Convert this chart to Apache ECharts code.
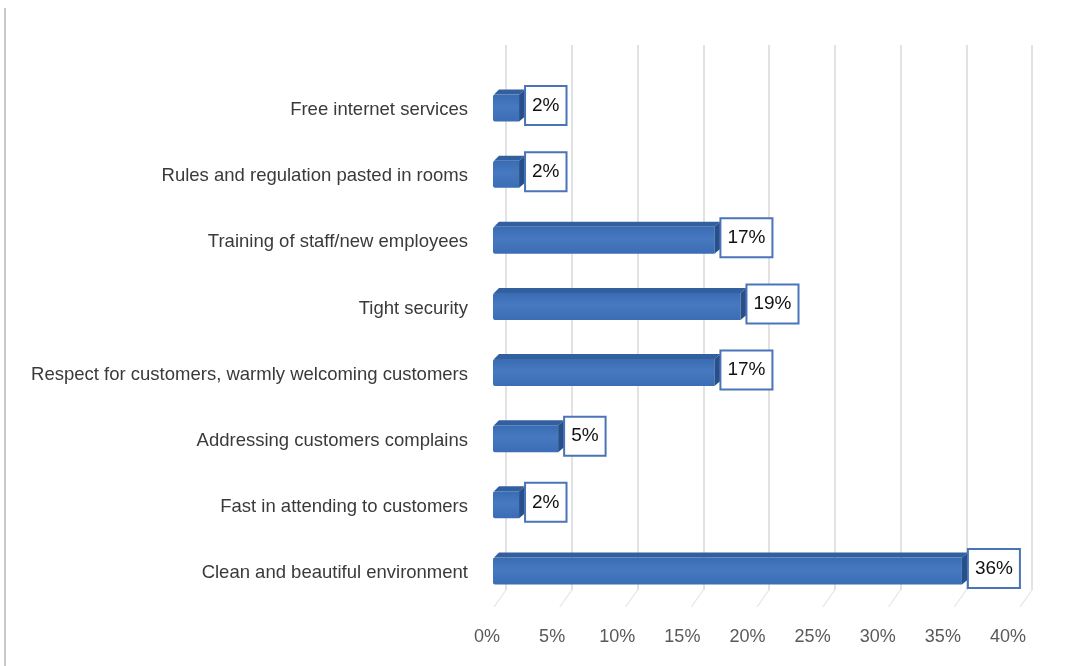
<!DOCTYPE html>
<html>
<head>
<meta charset="utf-8">
<script src="https://cdn.jsdelivr.net/npm/echarts@6/dist/echarts.min.js"></script>
<style>
  html, body { margin: 0; padding: 0; background: #ffffff; }
  #chart { width: 1067px; height: 666px; }
</style>
</head>
<body>
<div id="chart"></div>
<script>
// Survey responses: suggested improvements (share of respondents, %)
const categories = [
  'Free internet services',
  'Rules and regulation pasted in rooms',
  'Training of staff/new employees',
  'Tight security',
  'Respect for customers, warmly welcoming customers',
  'Addressing customers complains',
  'Fast in attending to customers',
  'Clean and beautiful environment'
];
const values = [2, 2, 17, 19, 17, 5, 2, 36];
const axisTicks = [0, 5, 10, 15, 20, 25, 30, 35, 40];

const FONT = '"Liberation Sans", Arial, sans-serif';
const FRONT = '#4779c0';
const TOP = '#325f9e';
const SIDE = '#27508a';
const BOX = '#4a74b8';

// depth offset of the pseudo-3D bars
const DX = 6, DY = 5, BAR_H = 27, LIFT = 4.5;

const chart = echarts.init(document.getElementById('chart'), null, { renderer: 'canvas' });

function renderBar(params, api) {
  const i = api.value(0);
  const v = api.value(1);
  const p0 = api.coord([0, i]);
  const p1 = api.coord([v, i]);
  const cy = p0[1] - LIFT;
  const yt = cy - BAR_H / 2 + DY / 2;
  const yb = cy + BAR_H / 2 + DY / 2;
  const x0 = p0[0], x1 = p1[0];
  return {
    type: 'group',
    children: [
      {
        type: 'polygon',
        shape: { points: [[x0 + 1, yt], [x1, yt], [x1 + DX, yt - DY], [x0 + DX, yt - DY]] },
        style: { fill: TOP }
      },
      {
        type: 'rect',
        shape: { x: x0, y: yt, width: x1 - x0, height: yb - yt, r: [2, 0, 0, 2] },
        style: {
          fill: new echarts.graphic.LinearGradient(0, 0, 0, 1, [
            { offset: 0, color: '#3a6cb3' },
            { offset: 0.45, color: FRONT },
            { offset: 1, color: '#3b6db4' }
          ])
        }
      },
      {
        type: 'polygon',
        shape: { points: [[x1, yt], [x1 + DX, yt - DY], [x1 + DX, yb - DY], [x1, yb]] },
        style: { fill: SIDE }
      },
      {
        type: 'text',
        style: {
          x: x1 + DX + 1,
          y: cy,
          text: v + '%',
          font: '19px ' + FONT,
          fill: '#111111',
          align: 'left',
          verticalAlign: 'middle',
          backgroundColor: '#ffffff',
          borderColor: BOX,
          borderWidth: 2,
          padding: [9, 6, 9, 6]
        }
      }
    ]
  };
}

function renderFloor(params, api) {
  const p = api.coord([api.value(0), 0]);
  return {
    type: 'line',
    shape: { x1: p[0], y1: p[1], x2: p[0] - 12, y2: p[1] + 17 },
    style: { stroke: '#e4e4e4', lineWidth: 1.2 }
  };
}

chart.setOption({
  backgroundColor: '#ffffff',
  animation: false,
  graphic: [
    { type: 'rect', shape: { x: 4, y: 8, width: 2, height: 660 }, style: { fill: '#c9c9c9' } }
  ],
  grid: [
    { left: 493, width: 521, top: 77, height: 529 },
    { left: 506, width: 526, top: 45, height: 545 }
  ],
  xAxis: [
    {
      gridIndex: 0, type: 'value', min: 0, max: 40, interval: 5,
      axisLine: { show: false }, axisTick: { show: false }, splitLine: { show: false },
      axisLabel: {
        formatter: '{value}%', color: '#595959', fontSize: 18, fontFamily: FONT,
        margin: 22, padding: [0, 12, 0, 0]
      }
    },
    {
      gridIndex: 1, type: 'value', min: 0, max: 40, interval: 5,
      axisLine: { show: false }, axisTick: { show: false }, axisLabel: { show: false },
      splitLine: { show: true, lineStyle: { color: '#d9d9d9', width: 1.5 } }
    }
  ],
  yAxis: [
    {
      gridIndex: 0, type: 'category', data: categories, inverse: true,
      axisLine: { show: false }, axisTick: { show: false }, splitLine: { show: false },
      axisLabel: { color: '#3a3a3a', fontSize: 18.5, fontFamily: FONT, margin: 25 }
    },
    {
      gridIndex: 1, type: 'value', min: 0, max: 1, show: false
    }
  ],
  series: [
    {
      type: 'custom',
      xAxisIndex: 1, yAxisIndex: 1,
      renderItem: renderFloor,
      data: axisTicks.map(t => [t]),
      silent: true,
      z: 1
    },
    {
      type: 'custom',
      xAxisIndex: 0, yAxisIndex: 0,
      renderItem: renderBar,
      encode: { x: 1, y: 0 },
      data: values.map((v, i) => [i, v]),
      z: 5
    }
  ]
});
</script>
</body>
</html>
